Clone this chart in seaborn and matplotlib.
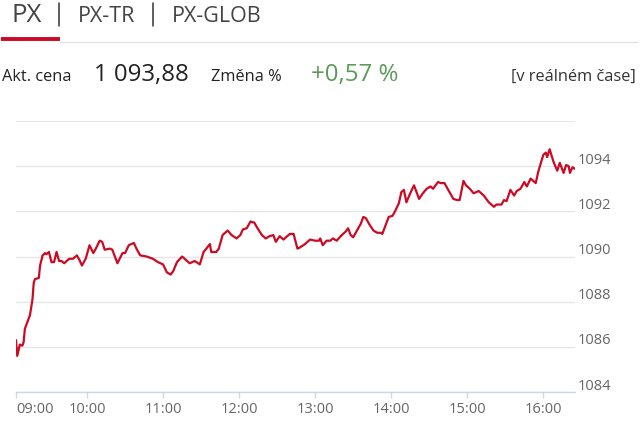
import numpy as np
import pandas as pd
import matplotlib
matplotlib.use('Agg')
import matplotlib.pyplot as plt
import matplotlib.transforms as mtransforms
import seaborn as sns

# PX index intraday, minutes after 09:00 and index value
minute = [4, 5, 7, 9, 10, 11, 13, 15, 17, 18, 19, 22, 23, 25, 27, 28, 30, 32, 34, 36,
          38, 40, 42, 46, 49, 52, 54, 56, 59, 62, 65, 67, 70, 72, 74, 78, 80, 84, 88, 90,
          93, 97, 99, 102, 107, 112, 116, 120, 123, 126, 128, 131, 135, 137, 141, 145, 149, 152, 157, 158,
          162, 164, 167, 171, 174, 178, 181, 183, 186, 189, 192, 194, 198, 201, 204, 207, 209, 212, 215, 218,
          220, 223, 226, 228, 232, 236, 240, 243, 244, 246, 249, 252, 254, 257, 261, 264, 266, 268, 270, 273,
          276, 278, 280, 283, 286, 289, 292, 293, 295, 298, 301, 303, 306, 308, 310, 312, 315, 318, 320, 322,
          325, 328, 331, 333, 337, 339, 342, 345, 349, 352, 354, 357, 359, 362, 365, 369, 373, 377, 381, 383,
          387, 389, 391, 394, 397, 399, 402, 405, 407, 410, 414, 416, 420, 422, 423, 425, 428, 431, 433, 436,
          438, 440, 441, 443, 445]
px_value = [1086.3, 1085.6, 1086.1, 1086.05, 1086.2, 1086.8, 1087.1, 1087.4, 1088.1, 1088.85,
            1089.0, 1089.05, 1089.6, 1090.05, 1090.15, 1090.1, 1090.2, 1089.75, 1089.75, 1090.2,
            1089.8, 1089.8, 1089.7, 1089.9, 1089.9, 1090.05, 1089.85, 1089.6, 1089.9, 1090.5,
            1090.15, 1090.35, 1090.7, 1090.65, 1090.3, 1090.35, 1090.3, 1089.7, 1090.15, 1090.15,
            1090.5, 1090.6, 1090.35, 1090.05, 1090.0, 1089.9, 1089.75, 1089.65, 1089.3, 1089.2,
            1089.35, 1089.75, 1090.0, 1089.9, 1089.7, 1089.8, 1089.65, 1090.2, 1090.55, 1090.2,
            1090.2, 1090.35, 1090.95, 1091.15, 1090.95, 1090.8, 1090.95, 1091.2, 1091.25, 1091.55,
            1091.5, 1091.3, 1090.95, 1090.8, 1090.9, 1090.95, 1090.65, 1090.9, 1090.75, 1090.9,
            1091.0, 1091.0, 1090.35, 1090.4, 1090.55, 1090.75, 1090.7, 1090.7, 1090.8, 1090.5,
            1090.7, 1090.7, 1090.8, 1090.7, 1090.95, 1091.1, 1091.25, 1090.95, 1090.85, 1091.15,
            1091.45, 1091.75, 1091.7, 1091.4, 1091.15, 1091.05, 1091.05, 1091.0, 1091.3, 1091.75,
            1091.8, 1092.0, 1092.35, 1092.85, 1092.95, 1092.4, 1092.8, 1093.15, 1092.85, 1092.55,
            1092.8, 1093.0, 1093.1, 1093.0, 1093.3, 1093.25, 1093.25, 1092.95, 1092.55, 1092.5,
            1092.5, 1093.35, 1093.15, 1093.0, 1092.8, 1092.9, 1092.7, 1092.4, 1092.2, 1092.3,
            1092.3, 1092.5, 1092.45, 1092.95, 1092.7, 1092.9, 1093.0, 1093.3, 1093.1, 1093.45,
            1093.25, 1093.75, 1094.5, 1094.6, 1094.4, 1094.75, 1094.2, 1093.8, 1094.15, 1093.7,
            1094.05, 1094.0, 1093.7, 1093.95, 1093.88]

tick_minutes = [4, 60, 120, 180, 240, 300, 360, 420]
tick_labels = ['09:00', '10:00', '11:00', '12:00', '13:00', '14:00', '15:00', '16:00']
y_ticks = [1084, 1086, 1088, 1090, 1092, 1094, 1096]
y_labels = ['1084', '1086', '1088', '1090', '1092', '1094', '']

tabs = ['PX', 'PX-TR', 'PX-GLOB']
price_label, price_text = 'Akt. cena', '1 093,88'
change_label, change_text = 'Změna %', '+0,57 %'
realtime_text = '[v reálném čase]'

df = pd.DataFrame({'minute': minute, 'value': px_value})

sns.set_style('white')
plt.rcParams['font.family'] = ['Open Sans', 'DejaVu Sans']

W, H = 640, 429
fig = plt.figure(figsize=(W / 100, H / 100), dpi=100)
ax = fig.add_axes([16 / W, 1 - 392 / H, (575 - 16) / W, (392 - 121) / H])

sns.lineplot(data=df, x='minute', y='value', ax=ax, color='#cc0a24', linewidth=1.6)

ax.set_xlim(4, 445)
ax.set_ylim(1084, 1096)
ax.set_xlabel('')
ax.set_ylabel('')

ax.set_xticks(tick_minutes)
ax.set_xticklabels(tick_labels)
ax.set_yticks(y_ticks)
ax.set_yticklabels(y_labels)
ax.yaxis.tick_right()

ax.grid(axis='y', color='#e6e6e6', linewidth=1)
ax.grid(axis='x', visible=False)
for side in ['top', 'left', 'right']:
    ax.spines[side].set_visible(False)
ax.spines['bottom'].set_color('#ccd6eb')
ax.spines['bottom'].set_linewidth(1)

ax.tick_params(axis='x', direction='out', length=4, width=1, color='#ccd6eb',
               labelcolor='#666666', labelsize=10.5, pad=3.5, bottom=True)
ax.tick_params(axis='y', length=0, labelcolor='#666666', labelsize=10.5, pad=2)
ax.get_xticklabels()[0].set_horizontalalignment('left')
shift = mtransforms.ScaledTranslation(0, 8 / 100, fig.dpi_scale_trans)
for lab in ax.get_yticklabels():
    lab.set_transform(lab.get_transform() + shift)


def fx(x):
    return x / W


def fy(y):
    return 1 - y / H


# header tabs
fig.text(fx(12), fy(15), tabs[0], fontsize=18.5, color='#444444', va='center', ha='left')
fig.text(fx(78), fy(17), tabs[1], fontsize=15.5, color='#444444', va='center', ha='left')
fig.text(fx(172), fy(17), tabs[2], fontsize=15.5, color='#444444', va='center', ha='left')
for sx in [59, 153]:
    fig.add_artist(plt.Line2D([fx(sx), fx(sx)], [fy(3), fy(26)], color='#333333', linewidth=1.1))
fig.add_artist(plt.Line2D([fx(60), fx(637)], [fy(41.5), fy(41.5)], color='#e3e3e3', linewidth=1))
fig.add_artist(plt.Line2D([fx(1), fx(60)], [fy(39), fy(39)], color='#cc0a24', linewidth=2.8,
                          solid_capstyle='butt'))

# price row
fig.text(fx(2), fy(81), price_label, fontsize=11.8, color='#222222', va='baseline', ha='left')
fig.text(fx(94), fy(81), price_text, fontsize=17.3, color='#222222', va='baseline', ha='left')
fig.text(fx(211), fy(81), change_label, fontsize=11.8, color='#222222', va='baseline', ha='left')
fig.text(fx(311), fy(81), change_text, fontsize=17.3, color='#5a9a5a', va='baseline', ha='left')
fig.text(fx(636), fy(81), realtime_text, fontsize=11.8, color='#333333', va='baseline', ha='right')

fig.savefig('out.png', dpi=100)
